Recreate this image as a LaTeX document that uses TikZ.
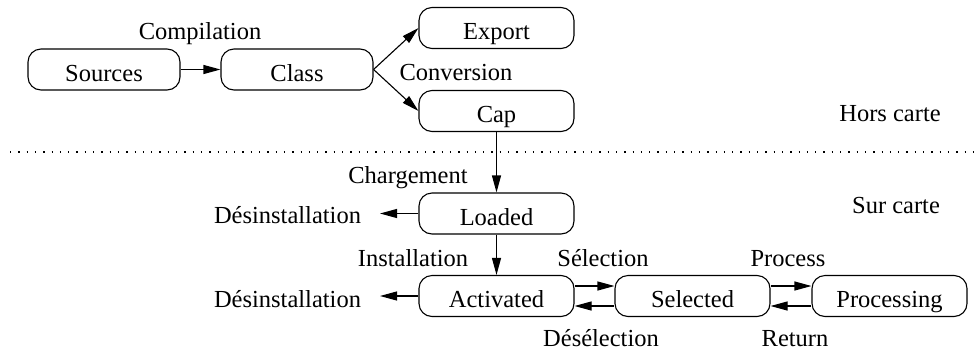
\documentclass[tikz,border=0pt]{standalone}
\usepackage{fontspec}
\setmainfont{Liberation Serif}
\usetikzlibrary{arrows.meta}
\begin{document}
\begin{tikzpicture}[x=1pt,y=-1pt,
  box/.style={draw, line width=1.1pt, rounded corners=13pt, minimum width=155pt, minimum height=41pt, inner sep=0pt, text height=23pt, text depth=0pt},
  lbl/.style={anchor=base, inner sep=0pt},
  arr/.style={line width=1.1pt, -{Triangle[length=17pt,width=9pt]}},
  sep/.style={line width=1.3pt, dash pattern=on 1.3pt off 7pt}
]
\useasboundingbox (0,0) rectangle (979,354);
\fontsize{24.5}{29}\selectfont
% nodes
\node[box, minimum width=152pt] (sources) at (104,69.5) {Sources};
\node[box, minimum width=152pt] (class) at (297,69.5) {Class};
\node[box] (export) at (496.5,28) {Export};
\node[box] (cap) at (496.5,111) {Cap};
\node[box] (loaded) at (496.5,213.5) {Loaded};
\node[box] (activated) at (496.5,296) {Activated};
\node[box] (selected) at (692.5,296) {Selected};
\node[box] (processing) at (889.5,296) {Processing};
\coordinate (dl1) at (380,213.5);
\coordinate (dl2) at (380,296);
\coordinate (sepL) at (10,152);
\coordinate (sepR) at (979,152);
% labels
\node[lbl] (compilation) at (200,39) {Compilation};
\node[lbl] (conversion) at (456,80) {Conversion};
\node[lbl] (hors) at (890,121) {Hors carte};
\node[lbl] (chargement) at (408,183) {Chargement};
\node[lbl] (sur) at (896,213) {Sur carte};
\node[lbl] (desinst1) at (287.5,223) {Désinstallation};
\node[lbl] (installation) at (413,266) {Installation};
\node[lbl] (desinst2) at (287.5,307) {Désinstallation};
\node[lbl] (selection) at (603,266) {Sélection};
\node[lbl] (process) at (788,266) {Process};
\node[lbl] (deselection) at (601,346) {Désélection};
\node[lbl] (return) at (795,346) {Return};
% separator
\draw[sep] (sepL) -- (sepR);
% connectors
\draw[arr] (sources) -- (class);
\draw[arr] (class.east) -- (export.west);
\draw[arr] (class.east) -- (cap.west);
\draw[arr] (cap) -- (loaded);
\draw[arr] (loaded) -- (activated);
\draw[arr] (loaded) -- (dl1);
\draw[arr] (activated) -- (dl2);
\draw[arr] ([yshift=10pt]activated.east) -- ([yshift=10pt]selected.west);
\draw[arr] ([yshift=-10pt]selected.west) -- ([yshift=-10pt]activated.east);
\draw[arr] ([yshift=10pt]selected.east) -- ([yshift=10pt]processing.west);
\draw[arr] ([yshift=-10pt]processing.west) -- ([yshift=-10pt]selected.east);
\end{tikzpicture}
\end{document}
